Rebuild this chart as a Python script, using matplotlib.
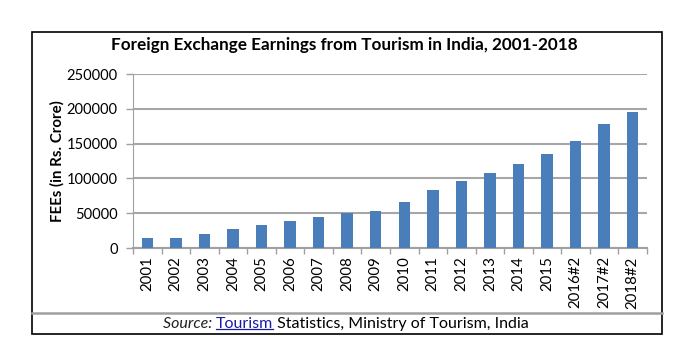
import matplotlib
matplotlib.use("Agg")
import matplotlib.pyplot as plt
from matplotlib.patches import Rectangle
from matplotlib.lines import Line2D

plt.rcParams["font.family"] = ["Lato", "DejaVu Sans"]

# Datos: FEEs (Rs. Crore), 2001-2018
anios = ["2001", "2002", "2003", "2004", "2005", "2006", "2007", "2008", "2009",
         "2010", "2011", "2012", "2013", "2014", "2015", "2016#2", "2017#2", "2018#2"]
fees = [15083, 15064, 20729, 27944, 33123, 39025, 44362, 50730, 53754,
        66172, 83036, 95607, 107563, 120367, 135193, 154146, 177874, 194881]
yticks = [0, 50000, 100000, 150000, 200000, 250000]

W, H = 700, 352
fig = plt.figure(figsize=(7, 3.52), dpi=100)

def fx(px):
    return px / W

def fy(py):
    return 1 - py / H

# marco exterior y línea divisoria
fig.patches.append(Rectangle((fx(32), fy(334)), fx(662) - fx(32), fy(32) - fy(334),
                             transform=fig.transFigure, fill=False,
                             edgecolor="black", linewidth=1.2))
fig.lines.append(Line2D([fx(32), fx(662)], [fy(313), fy(313)], transform=fig.transFigure,
                        color="#a0a0a0", linewidth=1.8))

ax = fig.add_axes([fx(133), fy(248), fx(647) - fx(133), fy(74) - fy(248)])
x = range(len(anios))
ax.bar(x, fees, width=0.4, color="#4a7ebb", zorder=3)
ax.set_xlim(-0.5, len(anios) - 0.5)
ax.set_ylim(0, 250000)
ax.set_yticks(yticks)
ax.set_yticklabels([str(v) for v in yticks], fontsize=10.5)
ax.set_xticks(list(x))
ax.set_xticklabels(anios, rotation=90, fontsize=10.8)
ax.tick_params(axis="x", length=0, pad=6)
ax.set_xticks([i + 0.5 for i in range(-1, len(anios))], minor=True)
ax.tick_params(axis="x", which="minor", length=4, color="#a0a0a0", width=1)
ax.tick_params(axis="y", length=5, color="#a0a0a0", width=1, pad=6)
ax.grid(axis="y", color="#a6a6a6", linewidth=1.5, zorder=0)
for lado in ["top", "right"]:
    ax.spines[lado].set_visible(False)
ax.spines["left"].set_color("#a0a0a0")
ax.spines["bottom"].set_color("#a0a0a0")
ax.spines["bottom"].set_linewidth(1.5)

fig.text(fx(344), fy(45), "Foreign Exchange Earnings from Tourism in India, 2001-2018",
         ha="center", va="center", fontsize=12.3, fontweight="bold")
fig.text(fx(57), fy(161), "FEEs (in Rs. Crore)", rotation=90, ha="center", va="center",
         fontsize=10.8, fontweight="bold")

# Texto de la fuente
t1 = fig.text(fx(163), fy(324), "Source: ", style="italic", fontsize=11.5,
              va="center", color="#222222")
t2 = fig.text(0, 0, "Tourism", fontsize=11.5, color="#1a1aa6")
t3 = fig.text(0, 0, " Statistics, Ministry of Tourism, India", fontsize=11.5)

fig.canvas.draw()
r = fig.canvas.get_renderer()
inv = fig.transFigure.inverted()
b1 = t1.get_window_extent(r)
x0, y0 = inv.transform((b1.x1, b1.y0))
t2.set_position((x0, y0))
t2.set_va("bottom")
fig.canvas.draw()
b2 = t2.get_window_extent(r)
x1, _ = inv.transform((b2.x1, b2.y0))
t3.set_position((x1, y0))
t3.set_va("bottom")
xa, ya = inv.transform((b2.x0, b2.y0 + 2))
xb, _ = inv.transform((b2.x1, b2.y0 + 2))
fig.lines.append(Line2D([xa, xb], [ya, ya], transform=fig.transFigure,
                        color="#1a1aa6", linewidth=0.9))

fig.savefig("out.png", dpi=100)
